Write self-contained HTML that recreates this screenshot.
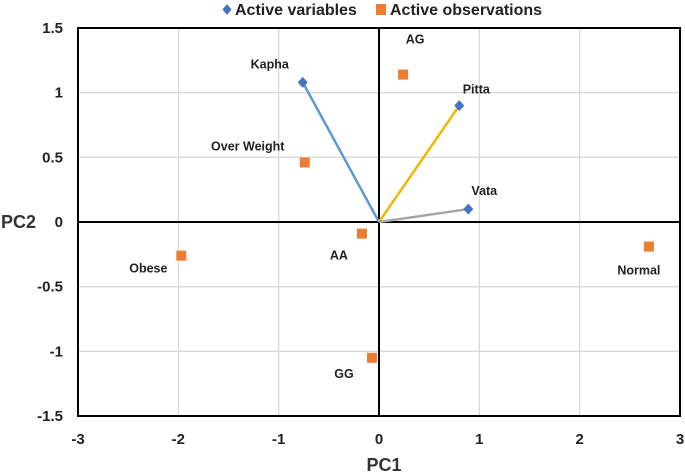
<!DOCTYPE html>
<html><head><meta charset="utf-8"><style>
html,body{margin:0;padding:0;background:#fff;}
svg{display:block;font-family:"Liberation Sans",Arial,sans-serif;font-weight:bold;}
</style></head><body>
<svg id="chart" width="685" height="475"></svg>
<script>
const xTicks=[-3,-2,-1,0,1,2,3];
const yTicks=[-1.5,-1,-0.5,0,0.5,1,1.5];
const yTickLabels=["-1.5","-1","-0.5","0","0.5","1","1.5"];
const varNames=["Kapha","Pitta","Vata"];
const varX=[-0.76,0.8,0.89];
const varY=[1.08,0.9,0.1];
const varColors=["#5b9bd5","#f2b700","#a5a5a5"];
const obsNames=["AG","Over Weight","AA","Obese","Normal","GG"];
const obsX=[0.24,-0.74,-0.17,-1.97,2.69,-0.07];
const obsY=[1.14,0.46,-0.09,-0.26,-0.19,-1.05];
const varLabelDx=[-33,17,16], varLabelDy=[-14,-12,-14];
const obsLabelDx=[12,-57,-23,-33,-10,-28], obsLabelDy=[-31,-12,26,17,28,20];

const L=78,R=680,T=28,B=416;
const sx=v=>L+(v+3)/6*(R-L);
const sy=v=>B-(v+1.5)/3*(B-T);
const svg=document.getElementById('chart');
const NS="http://www.w3.org/2000/svg";
function mk(tag,attrs,parent){const e=document.createElementNS(NS,tag);for(const k in attrs)e.setAttribute(k,attrs[k]);(parent||svg).appendChild(e);return e;}

xTicks.forEach(v=>{
  const g=mk('line',{x1:sx(v),x2:sx(v),y1:T,y2:B,stroke:'#d9d9d9','stroke-width':1.3});
  
  
  const t=mk('text',{x:sx(v),y:444,'text-anchor':'middle','font-size':15,fill:'#222'});
  t.textContent=String(v);
  
  
});
yTicks.forEach((v,i)=>{
  const g=mk('line',{x1:L,x2:R,y1:sy(v),y2:sy(v),stroke:'#d9d9d9','stroke-width':1.3});
  
  
  const t=mk('text',{x:63,y:sy(v)+5,'text-anchor':'end','font-size':15,fill:'#222'});
  t.textContent=yTickLabels[i];
  
  
});
const frame=mk('rect',{x:L,y:T,width:R-L,height:B-T,fill:'none',stroke:'#000','stroke-width':2});


const ax1=mk('line',{x1:L,x2:R,y1:sy(0),y2:sy(0),stroke:'#000','stroke-width':2});


const ax2=mk('line',{x1:sx(0),x2:sx(0),y1:T,y2:B,stroke:'#000','stroke-width':2});



varNames.forEach((n,i)=>{
  const l=mk('line',{x1:sx(0),y1:sy(0),x2:sx(varX[i]),y2:sy(varY[i]),stroke:varColors[i],'stroke-width':2.5});
  
  
});
varNames.forEach((n,i)=>{
  const x=sx(varX[i]),y=sy(varY[i]);
  const p=mk('polygon',{points:`${x},${y-5.5} ${x+5},${y} ${x},${y+5.5} ${x-5},${y}`,fill:'#4472c4'});
  
  
  const t=mk('text',{x:x+varLabelDx[i],y:y+varLabelDy[i],'text-anchor':'middle','font-size':12.5,fill:'#222'});
  t.textContent=n;
  
  
});
obsNames.forEach((n,i)=>{
  const x=sx(obsX[i]),y=sy(obsY[i]);
  const r=mk('rect',{x:x-5,y:y-5,width:10,height:10,fill:'#ed7d31'});
  
  
  const t=mk('text',{x:x+obsLabelDx[i],y:y+obsLabelDy[i],'text-anchor':'middle','font-size':12.5,fill:'#222'});
  t.textContent=n;
  
  
});

const lg=mk('g',{});


const d=mk('polygon',{points:'227,4 231.5,9.5 227,15 222.5,9.5',fill:'#4472c4'},lg);


const lt1=mk('text',{x:235,y:15,'font-size':16,fill:'#222'},lg);
lt1.textContent='Active variables';


const s=mk('rect',{x:376,y:4,width:10,height:11,fill:'#ed7d31'},lg);


const lt2=mk('text',{x:390,y:15,'font-size':16,fill:'#222'},lg);
lt2.textContent='Active observations';



const xt=mk('text',{x:384,y:471,'text-anchor':'middle','font-size':18,fill:'#333'});
xt.textContent='PC1';


const yt=mk('text',{x:1,y:228,'font-size':18,fill:'#333'});
yt.textContent='PC2';


</script>
</body></html>
